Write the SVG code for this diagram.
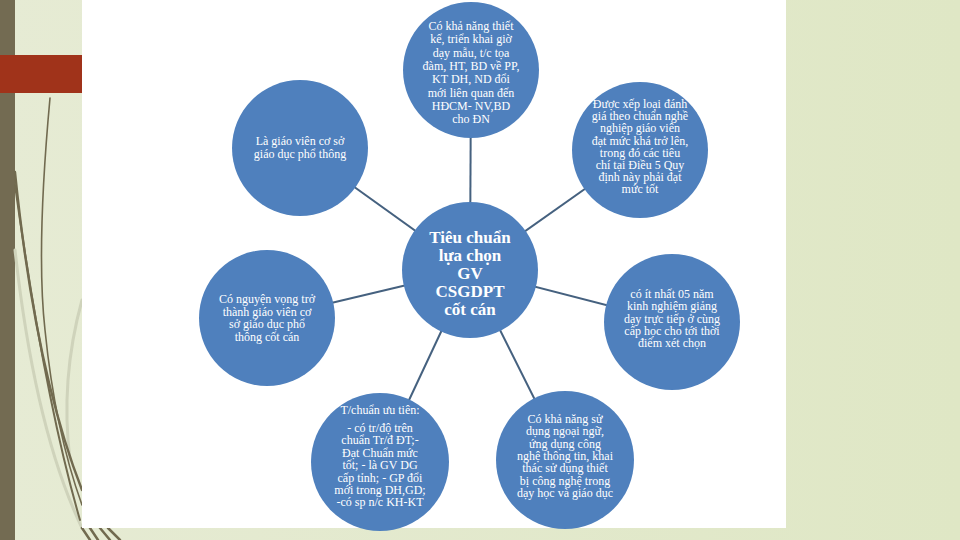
<svg xmlns="http://www.w3.org/2000/svg" width="960" height="540" viewBox="0 0 960 540">
<defs>
<linearGradient id="bg" x1="0" y1="0" x2="1" y2="0">
<stop offset="0" stop-color="#e6ebd4"/>
<stop offset="1" stop-color="#dfe7c5"/>
</linearGradient>
<style>
.node{fill:#4f80bd;}
.t{fill:#ffffff;font-family:"Liberation Serif","DejaVu Serif",serif;font-size:12px;text-anchor:middle;}
.tc{fill:#ffffff;font-family:"Liberation Serif","DejaVu Serif",serif;font-size:17px;font-weight:bold;text-anchor:middle;}
.conn{stroke:#45617f;stroke-width:2;fill:none;}
.deco{fill:none;stroke:#716a4f;stroke-linecap:round;}
.decoL{fill:none;stroke:#cfd3bb;stroke-linecap:round;}
</style>
</defs>
<rect x="0" y="0" width="960" height="540" fill="url(#bg)"/>
<rect x="0" y="0" width="15" height="540" fill="#736b52"/>
<g id="decor">
<path class="decoL" d="M15,250 Q35,430 82,528" stroke-width="3"/>
<path class="decoL" d="M82,300 Q60,380 70,460" stroke-width="3"/>
<path class="deco" d="M50,98 Q36,250 45,330 Q55,430 82,505" stroke-width="1.6"/>
<path class="deco" d="M15,172 Q35,370 82,490" stroke-width="2.4"/>
<path class="deco" d="M15,185 Q45,400 80,520" stroke-width="2"/>
<path class="deco" d="M82,528 L90,540 M90,528 L98,540 M100,528 L110,540 M108,528 L120,540" stroke-width="2.5"/>
</g>
<rect x="0" y="55" width="82" height="38" fill="#a0331a"/>
<rect x="82" y="0" width="704" height="528" fill="#ffffff"/>
<g id="connectors">
<line class="conn" x1="470" y1="270" x2="471" y2="70"/>
<line class="conn" x1="470" y1="270" x2="640" y2="150"/>
<line class="conn" x1="470" y1="270" x2="672" y2="322"/>
<line class="conn" x1="470" y1="270" x2="565" y2="460"/>
<line class="conn" x1="470" y1="270" x2="380" y2="462"/>
<line class="conn" x1="470" y1="270" x2="268" y2="318"/>
<line class="conn" x1="470" y1="270" x2="300" y2="148"/>
</g>
<g id="center">
<circle class="node" cx="470" cy="270" r="68"/>
<text class="tc"><tspan x="470" y="243">Tiêu chuẩn</tspan><tspan x="470" y="261">lựa chọn</tspan><tspan x="470" y="279">GV</tspan><tspan x="470" y="297">CSGDPT</tspan><tspan x="470" y="315">cốt cán</tspan></text>
</g>
<g id="n-top">
<circle class="node" cx="471" cy="70" r="68"/>
<text class="t"><tspan x="471" y="30">Có khả năng thiết</tspan><tspan x="471" y="43.3">kế, triển khai giờ</tspan><tspan x="471" y="56.6">dạy mẫu, t/c tọa</tspan><tspan x="471" y="69.9">đàm, HT, BD về PP,</tspan><tspan x="471" y="83.2">KT DH, ND đổi</tspan><tspan x="471" y="96.5">mới liên quan đến</tspan><tspan x="471" y="109.8">HĐCM- NV,BD</tspan><tspan x="471" y="123">cho ĐN</tspan></text>
</g>
<g id="n-topright">
<circle class="node" cx="640" cy="150" r="68"/>
<text class="t"><tspan x="640" y="108">Được xếp loại đánh</tspan><tspan x="640" y="120.2">giá theo chuẩn nghề</tspan><tspan x="640" y="132.4">nghiệp giáo viên</tspan><tspan x="640" y="144.6">đạt mức khá trở lên,</tspan><tspan x="640" y="156.8">trong đó các tiêu</tspan><tspan x="640" y="169">chí tại Điều 5 Quy</tspan><tspan x="640" y="181.2">định này phải đạt</tspan><tspan x="640" y="193.4">mức tốt</tspan></text>
</g>
<g id="n-right">
<circle class="node" cx="672" cy="322" r="68"/>
<text class="t"><tspan x="672" y="298">có ít nhất 05 năm</tspan><tspan x="672" y="310.3">kinh nghiệm giảng</tspan><tspan x="672" y="322.6">dạy trực tiếp ở cùng</tspan><tspan x="672" y="334.9">cấp học cho tới thời</tspan><tspan x="672" y="347.2">điểm xét chọn</tspan></text>
</g>
<g id="n-bottomright">
<circle class="node" cx="565" cy="460" r="69"/>
<text class="t"><tspan x="565" y="423">Có khả năng sử</tspan><tspan x="565" y="435.3">dụng ngoại ngữ,</tspan><tspan x="565" y="447.6">ứng dụng công</tspan><tspan x="565" y="459.9">nghệ thông tin, khai</tspan><tspan x="565" y="472.2">thác sử dụng thiết</tspan><tspan x="565" y="484.5">bị công nghệ trong</tspan><tspan x="565" y="496.8">dạy học và giáo dục</tspan></text>
</g>
<g id="n-bottomleft">
<circle class="node" cx="380" cy="462" r="69"/>
<text class="t"><tspan x="380" y="414">T/chuẩn  ưu tiên:</tspan><tspan x="380" y="432">- có tr/độ trên</tspan><tspan x="380" y="444.4">chuẩn Tr/đ ĐT;-</tspan><tspan x="380" y="456.8">Đạt Chuẩn mức</tspan><tspan x="380" y="469.2">tốt; - là GV DG</tspan><tspan x="380" y="481.6">cấp tỉnh; - GP đổi</tspan><tspan x="380" y="494">mới trong DH,GD;</tspan><tspan x="380" y="506.4">-có sp n/c KH-KT</tspan></text>
</g>
<g id="n-left">
<circle class="node" cx="267" cy="318" r="68"/>
<text class="t"><tspan x="267" y="303">Có nguyện vọng trở</tspan><tspan x="267" y="315.7">thành giáo viên cơ</tspan><tspan x="267" y="328.4">sở giáo dục phổ</tspan><tspan x="267" y="341.1">thông cốt cán</tspan></text>
</g>
<g id="n-topleft">
<circle class="node" cx="300" cy="148" r="68"/>
<text class="t"><tspan x="300" y="145">Là giáo viên cơ sở</tspan><tspan x="300" y="158">giáo dục phổ thông</tspan></text>
</g>
</svg>
